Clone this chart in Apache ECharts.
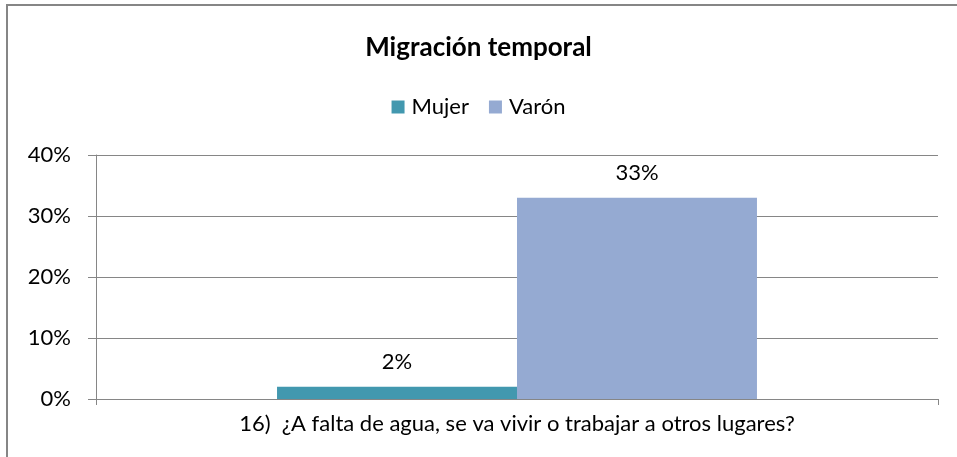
<!DOCTYPE html>
<html lang="es">
<head>
    <meta charset="UTF-8">
    <title>Migración temporal</title>
    <script src="https://cdn.jsdelivr.net/npm/echarts@6/dist/echarts.min.js"></script>
    <style>
        html, body { margin: 0; padding: 0; background: #fff; }
        #main { width: 957px; height: 457px; }
    </style>
</head>
<body>
    <div id="main"></div>
    <script type="text/javascript">
        // datos
        var categorias = ['16)  ¿A falta de agua, se va vivir o trabajar a otros lugares?'];
        var mujer = [0.02];
        var varon = [0.33];
        var yTicks = [0, 0.1, 0.2, 0.3, 0.4];

        var gris = '#868686';
        var fuente = 'Lato';

        function pct(v) {
            return Math.round(v * 100) + '%';
        }

        var option = {
            animation: false,
            textStyle: { fontFamily: fuente },
            title: {
                text: 'Migración temporal',
                left: 'center',
                top: 30,
                textStyle: { fontSize: 26, fontWeight: 'bold', color: '#000', fontFamily: fuente }
            },
            legend: {
                top: 91,
                left: 'center',
                itemWidth: 13,
                itemHeight: 13,
                itemGap: 20,
                icon: 'rect',
                textStyle: { fontSize: 22, color: '#000', fontFamily: fuente, padding: [0, 0, 0, 2] },
                data: ['Mujer', 'Varón']
            },
            grid: { left: 96, right: 19, top: 155, bottom: 58 },
            graphic: [{
                type: 'polyline',
                shape: { points: [[7, 460], [7, 5], [960, 5]] },
                style: { stroke: gris, lineWidth: 2, fill: null }
            }],
            xAxis: {
                type: 'category',
                data: categorias,
                axisLine: { lineStyle: { color: gris, width: 1 } },
                axisTick: { show: true, length: 6, lineStyle: { color: gris } },
                axisLabel: { fontSize: 22, color: '#000', margin: 14, fontFamily: fuente }
            },
            yAxis: {
                type: 'value',
                min: yTicks[0],
                max: yTicks[yTicks.length - 1],
                interval: 0.1,
                axisLine: { show: true, lineStyle: { color: gris } },
                axisTick: { show: true, length: 8, lineStyle: { color: gris } },
                splitLine: { lineStyle: { color: gris } },
                axisLabel: {
                    fontSize: 22, color: '#000', margin: 25, fontFamily: fuente,
                    formatter: function (v) { return pct(v); }
                }
            },
            series: [{
                name: 'Mujer',
                type: 'bar',
                data: mujer,
                barGap: '0%',
                barCategoryGap: '43%',
                itemStyle: { color: '#4298AF' },
                label: {
                    show: true, position: 'top', distance: 14,
                    fontSize: 22, color: '#000', fontFamily: fuente,
                    formatter: function (p) { return pct(p.value); }
                }
            }, {
                name: 'Varón',
                type: 'bar',
                data: varon,
                barGap: '0%',
                barCategoryGap: '43%',
                itemStyle: { color: '#95AAD2' },
                label: {
                    show: true, position: 'top', distance: 14,
                    fontSize: 22, color: '#000', fontFamily: fuente,
                    formatter: function (p) { return pct(p.value); }
                }
            }]
        };

        var myChart = echarts.init(document.getElementById('main'));
        myChart.setOption(option);
    </script>
</body>
</html>
